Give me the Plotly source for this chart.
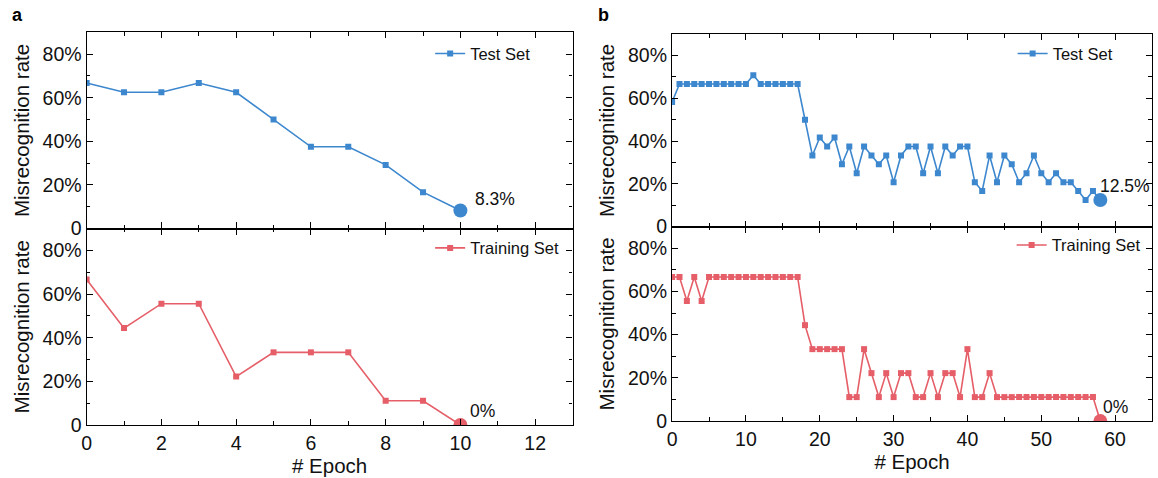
import plotly.graph_objects as go

# ---- data ---------------------------------------------------------------
epochs_a = list(range(0, 11))
test_a = [66.7, 62.5, 62.5, 66.7, 62.5, 50.0, 37.5, 37.5, 29.2, 16.7, 8.3]
train_a = [66.7, 44.4, 55.6, 55.6, 22.2, 33.3, 33.3, 33.3, 11.1, 11.1, 0.0]

epochs_b = list(range(0, 59))
test_b = [58.3,
          66.7, 66.7, 66.7, 66.7, 66.7, 66.7, 66.7, 66.7, 66.7, 66.7,
          70.8,
          66.7, 66.7, 66.7, 66.7, 66.7, 66.7,
          50.0, 33.3, 41.7, 37.5, 41.7, 29.2, 37.5, 25.0, 37.5, 33.3,
          29.2, 33.3, 20.8, 33.3, 37.5, 37.5, 25.0, 37.5, 25.0, 37.5,
          33.3, 37.5, 37.5, 20.8, 16.7, 33.3, 20.8, 33.3, 29.2, 20.8,
          25.0, 33.3, 25.0, 20.8, 25.0, 20.8, 20.8, 16.7, 12.5, 16.7,
          12.5]
train_b = [66.7, 66.7, 55.6, 66.7, 55.6,
           66.7, 66.7, 66.7, 66.7, 66.7, 66.7, 66.7, 66.7, 66.7, 66.7,
           66.7, 66.7, 66.7,
           44.4, 33.3, 33.3, 33.3, 33.3, 33.3, 11.1, 11.1, 33.3, 22.2,
           11.1, 22.2, 11.1, 22.2, 22.2, 11.1, 11.1, 22.2, 11.1, 22.2,
           22.2, 11.1, 33.3, 11.1, 11.1, 22.2,
           11.1, 11.1, 11.1, 11.1, 11.1, 11.1, 11.1, 11.1, 11.1, 11.1,
           11.1, 11.1, 11.1, 11.1,
           0.0]

y_tickvals = [0, 20, 40, 60, 80]
y_ticktext = ["0", "20%", "40%", "60%", "80%"]

# ---- styling ------------------------------------------------------------
BLUE = "#3C87CE"
RED = "#E55E68"
FONT = "Liberation Sans, Arial, sans-serif"
TICK_SIZE = 19.5
TITLE_SIZE = 20.5
W, H = 1158, 478

fig = go.Figure()

panels = [
    # (x, y, colour, name, xaxis, yaxis, legend)
    (epochs_a, test_a, BLUE, "Test Set", "x", "y", "legend"),
    (epochs_a, train_a, RED, "Training Set", "x2", "y2", "legend2"),
    (epochs_b, test_b, BLUE, "Test Set", "x3", "y3", "legend3"),
    (epochs_b, train_b, RED, "Training Set", "x4", "y4", "legend4"),
]

for xs, ys, col, name, xa, ya, lg in panels:
    fig.add_trace(go.Scatter(
        x=xs, y=ys, mode="lines+markers", name=name,
        line=dict(color=col, width=1.6),
        marker=dict(symbol="square", size=6, color=col),
        xaxis=xa, yaxis=ya, legend=lg,
    ))
    # final epoch highlighted with a larger dot
    fig.add_trace(go.Scatter(
        x=[xs[-1]], y=[ys[-1]], mode="markers", showlegend=False,
        marker=dict(symbol="circle", size=14, color=col),
        xaxis=xa, yaxis=ya, cliponaxis=True,
    ))


def px_x(p):
    return p / W


def px_y(p):
    return (H - p) / H


# ---- axes ---------------------------------------------------------------
dom_ax = [px_x(82), px_x(570)]
dom_bx = [px_x(670), px_x(1152)]
dom_a_top = [px_y(234), px_y(33)]
dom_a_bot = [px_y(435), px_y(234)]
dom_b_top = [px_y(232), px_y(35)]
dom_b_bot = [px_y(431), px_y(232)]

common_axis = dict(
    showline=True, linecolor="black", linewidth=1.3, mirror="ticks",
    ticks="inside", ticklen=6, tickwidth=1.3, tickcolor="black",
    showgrid=False, zeroline=False,
    tickfont=dict(family=FONT, size=TICK_SIZE, color="#111"),
)


def xaxis(domain, anchor, rng, dtick, minor, labels):
    d = dict(common_axis)
    d.update(domain=domain, anchor=anchor, range=rng, dtick=dtick, tick0=0,
             showticklabels=labels,
             minor=dict(dtick=minor, tick0=0, ticks="inside", ticklen=3.5,
                        tickwidth=1.2, tickcolor="black", showgrid=False))
    if labels:
        d.update(title=dict(text="# Epoch",
                            font=dict(family=FONT, size=TITLE_SIZE, color="#111"),
                            standoff=3))
    return d


def yaxis(domain, anchor):
    d = dict(common_axis)
    d.update(domain=domain, anchor=anchor, range=[0, 90],
             tickvals=y_tickvals, ticktext=y_ticktext,
             minor=dict(tickvals=[10, 30, 50, 70], ticks="inside", ticklen=3.5,
                        tickwidth=1.2, tickcolor="black", showgrid=False),
             title=dict(text="Misrecognition rate",
                        font=dict(family=FONT, size=TITLE_SIZE, color="#111"),
                        standoff=7))
    return d


fig.update_layout(
    xaxis=xaxis(dom_ax, "y", [0, 13], 2, 1, False),
    yaxis=yaxis(dom_a_top, "x"),
    xaxis2=xaxis(dom_ax, "y2", [0, 13], 2, 1, True),
    yaxis2=yaxis(dom_a_bot, "x2"),
    xaxis3=xaxis(dom_bx, "y3", [0, 65], 10, 5, False),
    yaxis3=yaxis(dom_b_top, "x3"),
    xaxis4=xaxis(dom_bx, "y4", [0, 65], 10, 5, True),
    yaxis4=yaxis(dom_b_bot, "x4"),
)

legend_style = dict(font=dict(family=FONT, size=16.5, color="#111"),
                    bgcolor="rgba(0,0,0,0)", borderwidth=0,
                    xanchor="left", yanchor="middle", itemwidth=30,
                    tracegroupgap=0)
fig.update_layout(
    legend=dict(legend_style, x=px_x(427), y=px_y(55)),
    legend2=dict(legend_style, x=px_x(427), y=px_y(254)),
    legend3=dict(legend_style, x=px_x(1012), y=px_y(55)),
    legend4=dict(legend_style, x=px_x(1011), y=px_y(251)),
)

# ---- value labels on the final epoch -------------------------------------
ann_font = dict(family=FONT, size=17.5, color="#111")
labels = [
    (epochs_a[-1], test_a[-1], "x", "y", 13, 12),
    (epochs_a[-1], train_a[-1], "x2", "y2", 8, 14),
    (epochs_b[-1], test_b[-1], "x3", "y3", -2, 14),
    (epochs_b[-1], train_b[-1], "x4", "y4", 1, 14),
]
annotations = []
for xv, yv, xr, yr, dx, dy in labels:
    annotations.append(dict(
        x=xv, y=yv, xref=xr, yref=yr, text=f"{yv:g}%", showarrow=False,
        xanchor="left", yanchor="middle", xshift=dx, yshift=dy, font=ann_font,
    ))

# panel letters
for txt, px in (("a", 13), ("b", 601)):
    annotations.append(dict(
        x=px_x(px), y=px_y(15), xref="paper", yref="paper",
        text=f"<b>{txt}</b>", showarrow=False, xanchor="center", yanchor="middle",
        font=dict(family=FONT, size=18, color="black"),
    ))

fig.update_layout(
    annotations=annotations,
    width=W, height=H,
    margin=dict(l=0, r=0, t=0, b=0),
    paper_bgcolor="white", plot_bgcolor="white",
)

fig.write_html("out.html")
